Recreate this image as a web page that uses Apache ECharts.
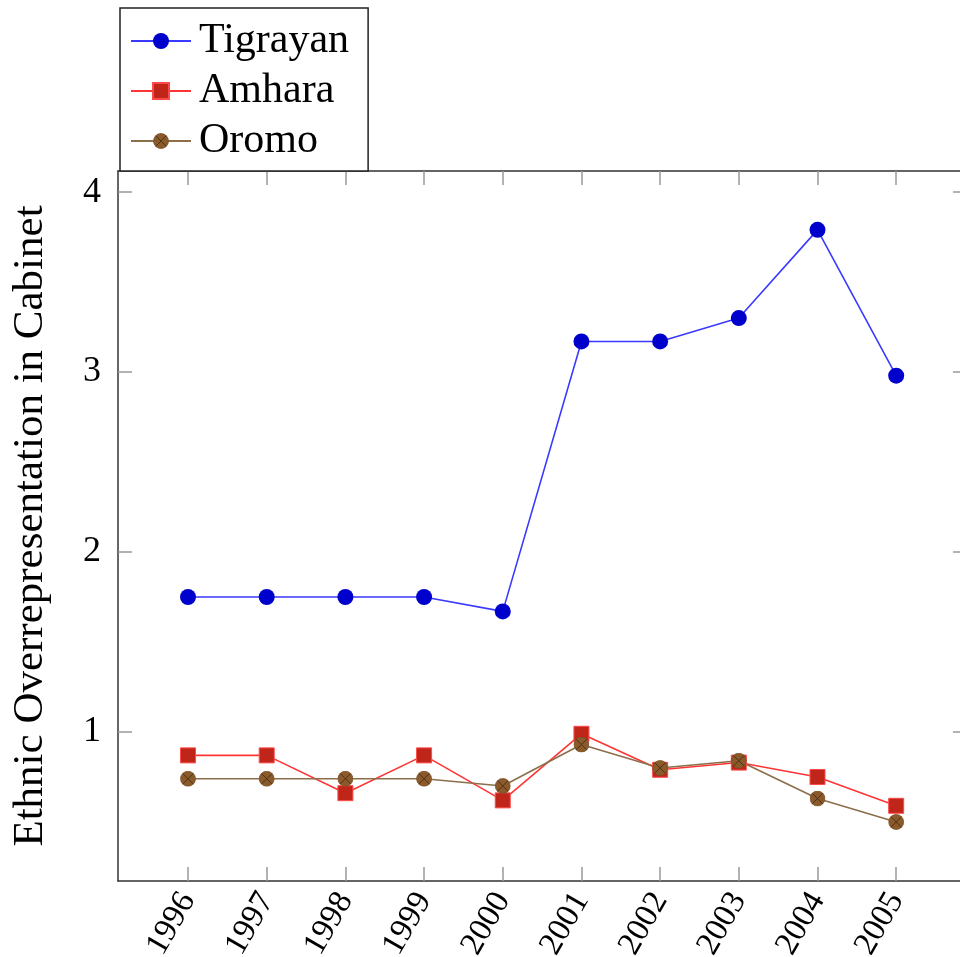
<!DOCTYPE html>
<html>
<head>
<meta charset="utf-8">
<script src="https://cdn.jsdelivr.net/npm/echarts@6/dist/echarts.min.js"></script>
<style>html,body{margin:0;padding:0;background:#fff;overflow:hidden}#c{width:990px;height:957px}</style>
</head>
<body>
<div id="c"></div>
<script>
var years = [1996, 1997, 1998, 1999, 2000, 2001, 2002, 2003, 2004, 2005];
var tigrayan = [1.75, 1.75, 1.75, 1.75, 1.67, 3.17, 3.17, 3.30, 3.79, 2.98];
var amhara = [0.87, 0.87, 0.66, 0.87, 0.62, 0.99, 0.79, 0.83, 0.75, 0.59];
var oromo = [0.74, 0.74, 0.74, 0.74, 0.70, 0.93, 0.80, 0.84, 0.63, 0.50];
var yTicks = [1, 2, 3, 4];

function pairs(v) { return years.map(function (y, i) { return [y, v[i]]; }); }

var oromoSvg = '<svg xmlns="http://www.w3.org/2000/svg" width="32" height="32" viewBox="0 0 32 32">' +
  '<circle cx="16" cy="16" r="15" fill="#8b5a2b" stroke="#7a4f26" stroke-width="1.5"/>' +
  '<line x1="5.4" y1="5.4" x2="26.6" y2="26.6" stroke="#4e3018" stroke-width="2"/>' +
  '<line x1="26.6" y1="5.4" x2="5.4" y2="26.6" stroke="#4e3018" stroke-width="2"/></svg>';
var oromoSymbol = 'image://data:image/svg+xml;charset=utf-8,' + encodeURIComponent(oromoSvg);

var FONT = 'Liberation Serif';
var chart = echarts.init(document.getElementById('c'), null, { renderer: 'canvas' });

var xBase = {
  type: 'value', min: 1995.11, max: 2005.9,
  splitLine: { show: false },
  axisLine: { show: true, onZero: false, lineStyle: { color: '#333', width: 1.5 } },
  axisTick: { show: true, inside: true, length: 14, customValues: years, lineStyle: { color: '#999', width: 1.5 } }
};
var yBase = {
  type: 'value', min: 0.172, max: 4.117,
  splitLine: { show: false },
  axisLine: { show: true, onZero: false, lineStyle: { color: '#333', width: 1.5 } },
  axisTick: { show: true, inside: true, length: 14, customValues: yTicks, lineStyle: { color: '#999', width: 1.5 } }
};

chart.setOption({
  animation: false,
  backgroundColor: '#fff',
  grid: { left: 118, top: 171, width: 849, height: 710, containLabel: false, outerBoundsMode: 'none' },
  xAxis: [
    Object.assign({}, xBase, {
      position: 'bottom',
      axisLabel: { show: true, customValues: years, rotate: 60, margin: 14, fontFamily: FONT, fontSize: 33, color: '#000',
        formatter: function (v) { return String(v); } }
    }),
    Object.assign({}, xBase, { position: 'top', axisLabel: { show: false } })
  ],
  yAxis: [
    Object.assign({}, yBase, {
      position: 'left',
      name: 'Ethnic Overrepresentation in Cabinet',
      nameLocation: 'middle', nameGap: 66, nameRotate: 90,
      nameTextStyle: { fontFamily: FONT, fontSize: 43, color: '#000' },
      axisLabel: { show: true, customValues: yTicks, margin: 17, fontFamily: FONT, fontSize: 36, color: '#000' }
    }),
    Object.assign({}, yBase, { position: 'right', axisLabel: { show: false } })
  ],
  legend: {
    left: 120, top: 8, orient: 'vertical',
    data: ['Tigrayan', 'Amhara', 'Oromo'],
    itemWidth: 60, itemHeight: 20, itemGap: 8,
    padding: [12, 19, 9, 10],
    backgroundColor: '#fff', borderColor: '#222', borderWidth: 1.5, borderRadius: 0,
    textStyle: { fontFamily: FONT, fontSize: 42, color: '#000', lineHeight: 42, padding: [0, 0, 0, 3] }
  },
  series: [
    { name: 'Tigrayan', type: 'line', data: pairs(tigrayan), symbol: 'circle', symbolSize: 16,
      lineStyle: { color: '#3a3aff', width: 1.6 }, itemStyle: { color: '#0000cc' } },
    { name: 'Amhara', type: 'line', data: pairs(amhara), symbol: 'rect', symbolSize: 15,
      lineStyle: { color: '#ff3535', width: 1.6 }, itemStyle: { color: '#bf2519', borderColor: '#ff4a4a', borderWidth: 1 } },
    { name: 'Oromo', type: 'line', data: pairs(oromo), symbol: oromoSymbol, symbolSize: 16,
      lineStyle: { color: '#8c6e4b', width: 1.6 }, itemStyle: { color: '#8b5a2b' } }
  ]
});
</script>
</body>
</html>
